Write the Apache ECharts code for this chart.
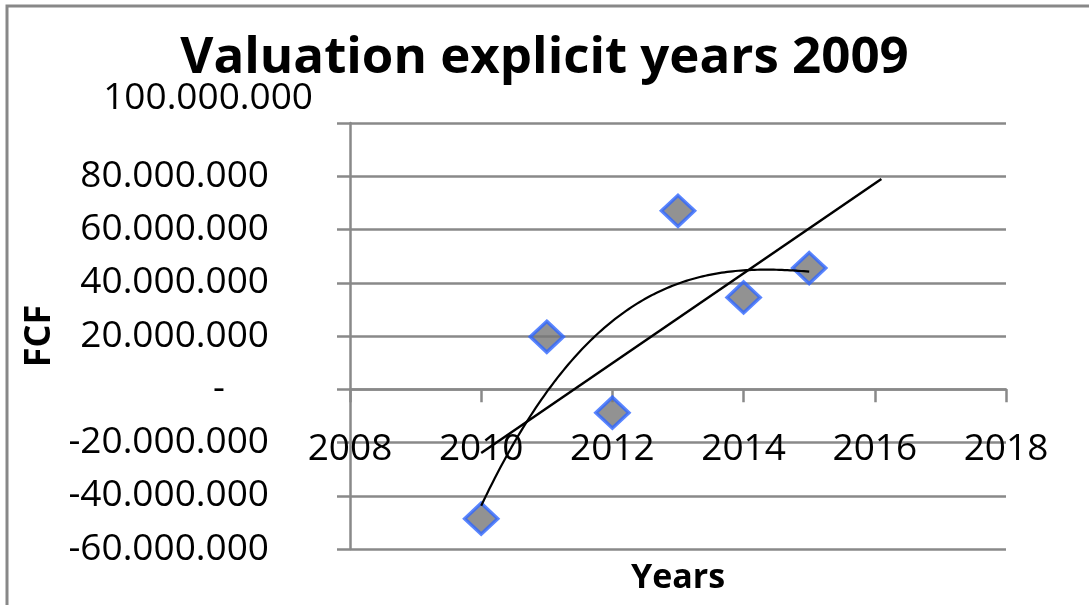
<!DOCTYPE html>
<html>
<head>
<meta charset="utf-8">
<style>
  html, body { margin: 0; padding: 0; background: #ffffff; }
  #chart { width: 1089px; height: 605px; }
</style>
<script src="https://cdn.jsdelivr.net/npm/echarts@6/dist/echarts.min.js"></script>
</head>
<body>
<div id="chart"></div>
<script>
// Free cash flow per explicit forecast year
const years = [2010, 2011, 2012, 2013, 2014, 2015];
const fcf = [-48600000, 19700000, -8800000, 67000000, 34500000, 45500000];

// Y axis ticks and their printed labels (accounting style, zero shown as "-")
const yTicks = [-60000000, -40000000, -20000000, 0, 20000000, 40000000, 60000000, 80000000, 100000000];
const yTickLabels = ['-60.000.000', '-40.000.000', '-20.000.000', '-', '20.000.000', '40.000.000', '60.000.000', '80.000.000', '100.000.000'];

// X axis ticks
const xTicks = [2008, 2010, 2012, 2014, 2016, 2018];
const xTickLabels = ['2008', '2010', '2012', '2014', '2016', '2018'];

const FONT = 'Open Sans';

// Least-squares polynomial fit of given degree, x centred for stability
function polyFit(xs, ys, degree) {
  const xm = xs.reduce((a, b) => a + b, 0) / xs.length;
  const n = degree + 1;
  const A = Array.from({ length: n }, () => new Array(n + 1).fill(0));
  xs.forEach((x, k) => {
    const t = x - xm;
    for (let i = 0; i < n; i++) {
      for (let j = 0; j < n; j++) A[i][j] += Math.pow(t, i + j);
      A[i][n] += Math.pow(t, i) * ys[k];
    }
  });
  for (let c = 0; c < n; c++) {
    let p = c;
    for (let r = c + 1; r < n; r++) if (Math.abs(A[r][c]) > Math.abs(A[p][c])) p = r;
    [A[c], A[p]] = [A[p], A[c]];
    for (let r = 0; r < n; r++) {
      if (r === c) continue;
      const f = A[r][c] / A[c][c];
      for (let k = c; k <= n; k++) A[r][k] -= f * A[c][k];
    }
  }
  const coef = A.map((row, i) => row[n] / row[i]);
  return x => coef.reduce((s, a, i) => s + a * Math.pow(x - xm, i), 0);
}

const linear = polyFit(years, fcf, 1);
const cubic = polyFit(years, fcf, 3);

const xFirst = years[0];
const xLast = years[years.length - 1];
const linearForward = 1.1;
const linearTrend = [[xFirst, linear(xFirst)], [xLast + linearForward, linear(xLast + linearForward)]];

const cubicTrend = [];
const steps = 120;
for (let i = 0; i <= steps; i++) {
  const x = xFirst + (xLast - xFirst) * i / steps;
  cubicTrend.push([x, cubic(x)]);
}

const chart = echarts.init(document.getElementById('chart'), null, { renderer: 'canvas' });

const gridColor = '#898989';
const labelStyle = { fontFamily: FONT, fontSize: 37, color: '#000000' };
const xRange = { type: 'value', min: xTicks[0], max: xTicks[xTicks.length - 1], interval: 2 };

chart.setOption({
  animation: false,
  backgroundColor: '#ffffff',
  title: {
    text: 'Valuation explicit years 2009',
    left: 'center',
    top: 28,
    textStyle: { fontFamily: FONT, fontWeight: 'bold', fontSize: 51, color: '#000000' }
  },
  graphic: [{
    type: 'rect',
    shape: { x: 7, y: 6, width: 1200, height: 800 },
    style: { fill: 'none', stroke: '#888888', lineWidth: 3 },
    silent: true
  }],
  grid: { left: 350, right: 83, top: 123, bottom: 56, containLabel: false, outerBoundsMode: 'none' },
  xAxis: [
    // axis line and ticks crossing at zero
    Object.assign({}, xRange, {
      axisLine: { show: true, onZero: true, lineStyle: { color: gridColor, width: 2.5 } },
      axisTick: { show: true, length: 13, lineStyle: { color: gridColor, width: 2.5 } },
      axisLabel: { show: false },
      splitLine: { show: false }
    }),
    // year labels and axis title
    Object.assign({}, xRange, {
      position: 'bottom',
      name: 'Years',
      nameLocation: 'middle',
      nameGap: 29,
      nameTextStyle: { fontFamily: FONT, fontWeight: 'bold', fontSize: 34, color: '#000000', verticalAlign: 'middle' },
      axisLine: { show: false, onZero: false },
      axisTick: { show: false },
      axisLabel: Object.assign({
        inside: true,
        margin: 100,
        verticalAlign: 'middle',
        formatter: v => {
          const i = xTicks.indexOf(Math.round(v));
          return i >= 0 ? xTickLabels[i] : '';
        }
      }, labelStyle),
      splitLine: { show: false }
    })
  ],
  yAxis: {
    type: 'value',
    min: yTicks[0],
    max: yTicks[yTicks.length - 1],
    interval: 20000000,
    name: 'FCF',
    nameLocation: 'middle',
    nameRotate: 90,
    nameGap: 297,
    nameTextStyle: { fontFamily: FONT, fontWeight: 'bold', fontSize: 36, color: '#000000', verticalAlign: 'middle' },
    axisLine: { show: true, lineStyle: { color: gridColor, width: 2.5 } },
    axisTick: { show: true, length: 13, lineStyle: { color: gridColor, width: 2.5 } },
    axisLabel: {
      margin: 37,
      hideOverlap: false,
      formatter: v => {
        const i = yTicks.indexOf(Math.round(v));
        const s = i >= 0 ? yTickLabels[i] : '';
        if (Math.round(v) === yTicks[yTicks.length - 1]) return '{top|' + s + '}';
        if (Math.round(v) === 0) return '{zero|' + s + '}';
        return '{n|' + s + '}';
      },
      rich: {
        n: Object.assign({ padding: [0, 44, 0, 0] }, labelStyle),
        zero: Object.assign({ padding: [0, 88, 0, 0] }, labelStyle),
        top: Object.assign({ padding: [0, 0, 50, 0] }, labelStyle)
      }
    },
    splitLine: { show: true, lineStyle: { color: gridColor, width: 2.5 } }
  },
  series: [
    {
      name: 'FCF',
      type: 'scatter',
      data: years.map((y, i) => [y, fcf[i]]),
      symbol: 'diamond',
      symbolSize: [33, 31],
      itemStyle: { color: '#777777', borderColor: '#2f66ff', borderWidth: 3.5 },
      z: 3
    },
    {
      name: 'Linear trend',
      type: 'line',
      data: linearTrend,
      showSymbol: false,
      symbol: 'none',
      lineStyle: { color: '#000000', width: 2.5 },
      z: 4
    },
    {
      name: 'Polynomial trend',
      type: 'line',
      data: cubicTrend,
      showSymbol: false,
      symbol: 'none',
      smooth: false,
      lineStyle: { color: '#000000', width: 2.2 },
      z: 4
    }
  ]
});
</script>
</body>
</html>
